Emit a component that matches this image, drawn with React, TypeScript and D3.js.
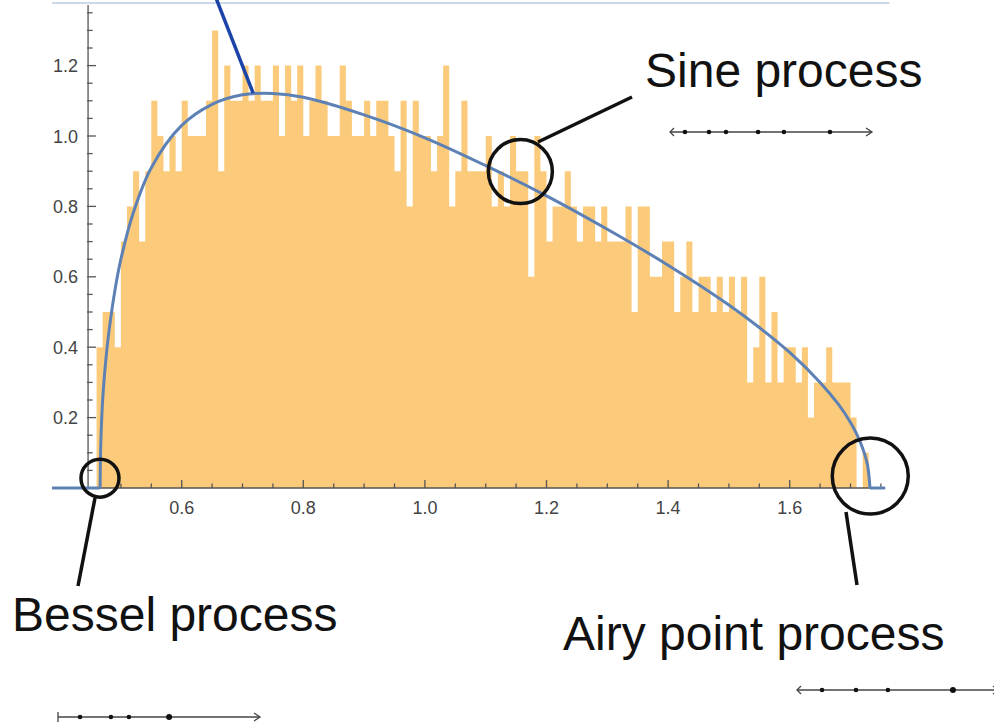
import React, { useEffect, useRef } from "react";
import * as d3 from "d3";

// histogram of the sample: bins 0.01 wide starting at 0.46
const binStart = 0.46;
const binWidth = 0.01;
const binHeights = [
  0.4, 0.5, 0.5, 0.4, 0.7, 0.8, 0.9, 0.7, 0.9, 1.1,
  1.0, 0.9, 1.0, 0.9, 1.1, 1.0, 1.0, 1.0, 1.1, 1.3,
  0.9, 1.2, 1.1, 1.1, 1.2, 1.1, 1.2, 1.1, 1.1, 1.2,
  1.0, 1.2, 1.1, 1.2, 1.0, 1.1, 1.2, 1.1, 1.0, 1.0,
  1.2, 1.1, 1.0, 1.0, 1.1, 1.0, 1.1, 1.1, 1.0, 0.9,
  1.1, 0.8, 1.1, 1.0, 1.0, 0.9, 1.0, 1.2, 0.8, 0.9,
  1.1, 0.9, 0.9, 0.9, 1.0, 0.8, 0.9, 0.8, 1.0, 0.9,
  0.9, 0.6, 1.0, 0.9, 0.7, 0.8, 0.8, 0.9, 0.8, 0.7,
  0.8, 0.8, 0.7, 0.8, 0.7, 0.7, 0.7, 0.8, 0.5, 0.8,
  0.8, 0.6, 0.6, 0.7, 0.7, 0.5, 0.6, 0.7, 0.5, 0.6,
  0.6, 0.5, 0.6, 0.5, 0.6, 0.5, 0.6, 0.3, 0.4, 0.6,
  0.3, 0.5, 0.3, 0.4, 0.4, 0.3, 0.4, 0.2, 0.3, 0.3,
  0.4, 0.3, 0.3, 0.3, 0.2, 0.0, 0.1,
];

// limiting density, points
const curveX = [
  0.4658, 0.467, 0.47, 0.475, 0.48, 0.49, 0.5, 0.52, 0.55, 0.6, 0.65, 0.7,
  0.75, 0.8, 0.9, 1.0, 1.1, 1.2, 1.3, 1.4, 1.5, 1.55, 1.6, 1.65, 1.68, 1.7,
  1.71, 1.72, 1.728, 1.732,
];
const curveY = [
  0, 0.13, 0.25, 0.36, 0.44, 0.56, 0.65, 0.78, 0.91, 1.03, 1.09, 1.117, 1.121,
  1.11, 1.06, 0.995, 0.916, 0.83, 0.735, 0.633, 0.52, 0.456, 0.385, 0.3, 0.238,
  0.186, 0.154, 0.113, 0.065, 0,
];
const plotXMin = 0.387;
const plotXMax = 1.757;
const yAxisAt = 0.446;
const yTop = 1.372;

const xTicks = [0.6, 0.8, 1.0, 1.2, 1.4, 1.6];
const yTicks = [0.2, 0.4, 0.6, 0.8, 1.0, 1.2];

// circled spots on the curve
const spots = [
  { name: "Sine process", x: 1.157, y: 0.899, r: 32 },
  { name: "Bessel process", x: 0.4656, y: 0.028, r: 19 },
  { name: "Airy point process", x: 1.7325, y: 0.034, r: 38 },
];

// sample configurations drawn on small number lines
const sinePoints = [0.74, 1.93, 2.77, 4.36, 5.64, 7.92];
const besselPoints = [1.09, 2.62, 3.51, 5.5];
const airyPoints = [1.24, 2.92, 4.5, 7.72];

const FONT = "'Liberation Sans', Arial, Helvetica, sans-serif";

const App = () => {
  const svgRef = useRef(null);

  useEffect(() => {
    const svg = d3.select(svgRef.current);
    svg.selectAll("*").remove();

    const x = d3.scaleLinear().domain([0.6, 1.6]).range([181.7, 789.7]);
    const y = d3.scaleLinear().domain([0, 1.2]).range([488, 65.6]);

    // faint frame line along the top
    svg
      .append("line")
      .attr("x1", x(plotXMin))
      .attr("x2", x(plotXMax + 0.007))
      .attr("y1", y(1.378))
      .attr("y2", y(1.378))
      .attr("stroke", "#cbd6e6")
      .attr("stroke-width", 2);

    // bars, drawn as one stepped area so no seams show between them
    const steps = binHeights.map((h, i) => ({ x0: binStart + i * binWidth, h }));
    steps.push({
      x0: binStart + binHeights.length * binWidth,
      h: binHeights[binHeights.length - 1],
    });
    const area = d3
      .area()
      .x((d) => x(d.x0))
      .y0(y(0))
      .y1((d) => y(d.h))
      .curve(d3.curveStepAfter);
    svg.append("path").attr("d", area(steps)).attr("fill", "#fbcb7b");

    // axes
    const ax = svg.append("g").attr("stroke", "#555").attr("stroke-width", 1.3);
    ax.append("line")
      .attr("x1", x(plotXMin))
      .attr("x2", x(plotXMax))
      .attr("y1", y(0))
      .attr("y2", y(0));
    ax.append("line")
      .attr("x1", x(yAxisAt))
      .attr("x2", x(yAxisAt))
      .attr("y1", y(0))
      .attr("y2", y(yTop));

    const xMinor = d3.range(10, 36).map((k) => k * 0.05);
    xMinor.forEach((v) => {
      const major = Math.abs(v * 5 - Math.round(v * 5)) < 1e-6;
      ax.append("line")
        .attr("x1", x(v))
        .attr("x2", x(v))
        .attr("y1", y(0))
        .attr("y2", y(0) - (major ? 8 : 4.5));
    });
    const yMinor = d3.range(1, 28).map((k) => k * 0.05);
    yMinor.forEach((v) => {
      const major = Math.abs(v * 5 - Math.round(v * 5)) < 1e-6;
      ax.append("line")
        .attr("x1", x(yAxisAt) - 1)
        .attr("x2", x(yAxisAt) + (major ? 8 : 4.5))
        .attr("y1", y(v))
        .attr("y2", y(v));
    });

    svg
      .append("g")
      .selectAll("text.xt")
      .data(xTicks)
      .enter()
      .append("text")
      .attr("x", (d) => x(d))
      .attr("y", y(0) + 26)
      .attr("text-anchor", "middle")
      .attr("font-family", FONT)
      .attr("font-size", 18)
      .attr("fill", "#444")
      .text((d) => d.toFixed(1));

    svg
      .append("g")
      .selectAll("text.yt")
      .data(yTicks)
      .enter()
      .append("text")
      .attr("x", x(yAxisAt) - 10)
      .attr("y", (d) => y(d) + 6.5)
      .attr("text-anchor", "end")
      .attr("font-family", FONT)
      .attr("font-size", 18)
      .attr("fill", "#444")
      .text((d) => d.toFixed(1));

    // density curve
    const blue = "#5e81b5";
    svg
      .append("line")
      .attr("x1", x(plotXMin))
      .attr("x2", x(curveX[0]))
      .attr("y1", y(0))
      .attr("y2", y(0))
      .attr("stroke", blue)
      .attr("stroke-width", 3);
    svg
      .append("line")
      .attr("x1", x(curveX[curveX.length - 1]))
      .attr("x2", x(plotXMax))
      .attr("y1", y(0))
      .attr("y2", y(0))
      .attr("stroke", blue)
      .attr("stroke-width", 3);
    const line = d3
      .line()
      .x((d) => x(d[0]))
      .y((d) => y(d[1]))
      .curve(d3.curveCatmullRom.alpha(0.5));
    svg
      .append("path")
      .attr("d", line(curveX.map((v, i) => [v, curveY[i]])))
      .attr("fill", "none")
      .attr("stroke", blue)
      .attr("stroke-width", 3);

    // pointer to the peak, dark blue
    svg
      .append("line")
      .attr("x1", 216)
      .attr("y1", -2)
      .attr("x2", x(0.7175))
      .attr("y2", y(1.119) - 1)
      .attr("stroke", "#1b43a8")
      .attr("stroke-width", 3.5);

    // circles and leaders
    const ann = svg
      .append("g")
      .attr("stroke", "#111")
      .attr("stroke-width", 3.5)
      .attr("fill", "none");
    spots.forEach((s) => {
      ann.append("circle").attr("cx", x(s.x)).attr("cy", y(s.y)).attr("r", s.r);
    });
    ann.append("line").attr("x1", 538).attr("y1", 142).attr("x2", 632).attr("y2", 97);
    ann.append("line").attr("x1", 95).attr("y1", 498).attr("x2", 78).attr("y2", 586);
    ann.append("line").attr("x1", 846).attr("y1", 512).attr("x2", 857).attr("y2", 585);

    const labels = [
      { t: spots[0].name, x: 645, y: 87 },
      { t: spots[1].name, x: 12, y: 631 },
      { t: spots[2].name, x: 563, y: 650 },
    ];
    svg
      .append("g")
      .selectAll("text.lab")
      .data(labels)
      .enter()
      .append("text")
      .attr("x", (d) => d.x)
      .attr("y", (d) => d.y)
      .attr("font-family", FONT)
      .attr("font-size", 48)
      .attr("fill", "#111")
      .text((d) => d.t);

    // little number lines with point samples
    const numberLine = (pts, x0, yy, leftEnd, bigLast) => {
      const s = d3.scaleLinear().domain([0, 10]).range([x0, x0 + 202]);
      const g = svg
        .append("g")
        .attr("stroke", "#444")
        .attr("stroke-width", 1.3)
        .attr("fill", "none");
      g.append("line").attr("x1", s(0)).attr("x2", s(10)).attr("y1", yy).attr("y2", yy);
      if (leftEnd === "bar") {
        g.append("line").attr("x1", s(0)).attr("x2", s(0)).attr("y1", yy - 5).attr("y2", yy + 5);
      } else {
        g.append("path").attr("d", `M${s(0) + 4},${yy - 4}L${s(0)},${yy}L${s(0) + 4},${yy + 4}`);
      }
      g.append("path").attr("d", `M${s(10) - 6},${yy - 4}L${s(10)},${yy}L${s(10) - 6},${yy + 4}`);
      svg
        .append("g")
        .selectAll("circle")
        .data(pts)
        .enter()
        .append("circle")
        .attr("cx", (d) => s(d))
        .attr("cy", yy)
        .attr("r", (d, i) => (bigLast && i === pts.length - 1 ? 3 : 2.3))
        .attr("fill", "#111");
    };
    numberLine(sinePoints, 670, 132, "arrow", false);
    numberLine(besselPoints, 58, 717, "bar", true);
    numberLine(airyPoints, 797, 690, "arrow", true);
  }, []);

  return (
    <svg
      ref={svgRef}
      width={994}
      height={726}
      style={{ position: "absolute", left: 0, top: 0, background: "#fff" }}
    />
  );
};

export default App;
